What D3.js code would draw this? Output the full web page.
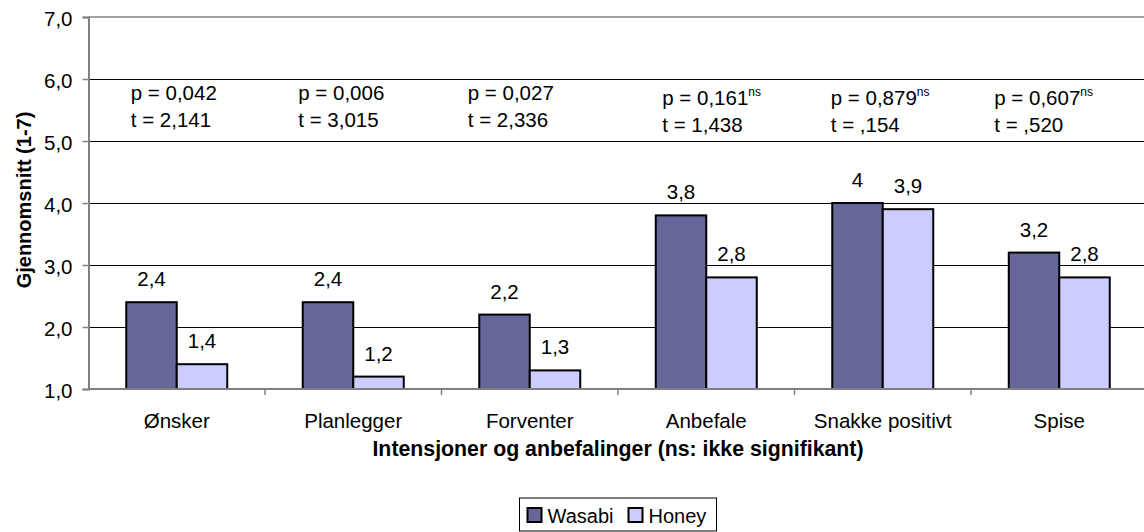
<!DOCTYPE html>
<meta charset="utf-8">
<script src="https://d3js.org/d3.v7.min.js"></script>
<style>
  body { margin: 0; background: #fff; }
  text { font-family: "Liberation Sans", Arial, sans-serif; fill: #000; }
</style>
<div id="chart"></div>
<script>

// data
var categories = ["Ønsker", "Planlegger", "Forventer", "Anbefale", "Snakke positivt", "Spise"];
var series = ["Wasabi", "Honey"];
var wasabi = [2.4, 2.4, 2.2, 3.8, 4.0, 3.2];
var honey = [1.4, 1.2, 1.3, 2.8, 3.9, 2.8];
var wasabiLabels = ["2,4", "2,4", "2,2", "3,8", "4", "3,2"];
var honeyLabels = ["1,4", "1,2", "1,3", "2,8", "3,9", "2,8"];
var pValues = ["0,042", "0,006", "0,027", "0,161", "0,879", "0,607"];
var tValues = ["2,141", "3,015", "2,336", "1,438", ",154", ",520"];
var notSignificant = [false, false, false, true, true, true];
var yTicks = [1, 2, 3, 4, 5, 6, 7];

// layout
var W = 1144, H = 532;
var plotLeft = 88.5, plotTop = 17, plotBottom = 389;
var catW = 176.5;
var annotOffset = [-46, -55, -62, -44, -52, -65];
var colors = {Wasabi: "#666699", Honey: "#CCCCFF"};

var svg = d3.select("#chart").append("svg")
    .attr("width", W).attr("height", H);

var x0 = d3.scaleBand()
    .domain(categories)
    .range([plotLeft, plotLeft + catW * categories.length])
    .padding(0);

var barW = 50.5;
var x1 = d3.scaleBand()
    .domain(series)
    .range([catW / 2 - barW, catW / 2 + barW]);

var y = d3.scaleLinear().domain([1, 7]).range([plotBottom, plotTop]);

// gridlines
svg.append("g")
    .selectAll("line")
    .data(yTicks.filter(function(d) { return d > 1 && d < 7; }))
    .enter().append("line")
    .attr("x1", plotLeft).attr("x2", W)
    .attr("y1", function(d) { return Math.round(y(d)) + 0.5; })
    .attr("y2", function(d) { return Math.round(y(d)) + 0.5; })
    .attr("stroke", "#000").attr("stroke-width", 1);

// top border
svg.append("line")
    .attr("x1", plotLeft).attr("x2", W)
    .attr("y1", y(7)).attr("y2", y(7))
    .attr("stroke", "#808080").attr("stroke-width", 1.5);

// y axis
var yAxis = svg.append("g")
    .attr("transform", "translate(" + plotLeft + ",0)")
    .call(d3.axisLeft(y).tickValues(yTicks).tickSize(6).tickPadding(10)
        .tickFormat(function(d) { return d3.format(".1f")(d).replace(".", ","); }));
yAxis.select(".domain").attr("stroke", "#808080").attr("stroke-width", 2);
yAxis.selectAll(".tick line").attr("stroke", "#808080").attr("stroke-width", 1.5);
yAxis.selectAll(".tick text")
    .style("font-size", "20.5px")
    .attr("font-family", null)
    .attr("dy", "0.42em");

// bars
var rows = categories.map(function(c, i) {
    return {cat: c, vals: [
        {s: "Wasabi", v: wasabi[i], label: wasabiLabels[i]},
        {s: "Honey", v: honey[i], label: honeyLabels[i]}
    ]};
});

var groups = svg.append("g")
    .selectAll("g")
    .data(rows)
    .enter().append("g")
    .attr("transform", function(d) { return "translate(" + x0(d.cat) + ",0)"; });

groups.selectAll("rect")
    .data(function(d) { return d.vals; })
    .enter().append("rect")
    .attr("x", function(d) { return x1(d.s); })
    .attr("y", function(d) { return y(d.v); })
    .attr("width", x1.bandwidth())
    .attr("height", function(d) { return y(1) - y(d.v); })
    .attr("fill", function(d) { return colors[d.s]; })
    .attr("stroke", "#000")
    .attr("stroke-width", 2);

groups.selectAll(".vlabel")
    .data(function(d) { return d.vals; })
    .enter().append("text")
    .attr("class", "vlabel")
    .attr("x", function(d) { return x1(d.s) + x1.bandwidth() / 2; })
    .attr("y", function(d) { return y(d.v) - 16; })
    .attr("text-anchor", "middle")
    .style("font-size", "20.5px")
    .text(function(d) { return d.label; });

// x axis
svg.append("line")
    .attr("x1", plotLeft).attr("x2", W)
    .attr("y1", plotBottom).attr("y2", plotBottom)
    .attr("stroke", "#808080").attr("stroke-width", 2);

svg.append("g")
    .selectAll("line")
    .data(categories)
    .enter().append("line")
    .attr("x1", function(d) { return x0(d) + catW; })
    .attr("x2", function(d) { return x0(d) + catW; })
    .attr("y1", plotBottom).attr("y2", plotBottom + 6)
    .attr("stroke", "#808080").attr("stroke-width", 1.5);

svg.append("g")
    .selectAll("text")
    .data(categories)
    .enter().append("text")
    .attr("x", function(d) { return x0(d) + catW / 2; })
    .attr("y", 428)
    .attr("text-anchor", "middle")
    .style("font-size", "20.5px")
    .text(function(d) { return d; });

// annotations
var ann = svg.append("g")
    .selectAll("g")
    .data(categories)
    .enter().append("g")
    .attr("transform", function(d, i) {
        return "translate(" + (x0(d) + catW / 2 + annotOffset[i]) + "," + (notSignificant[i] ? 104.5 : 100) + ")";
    });

var pText = ann.append("text")
    .style("font-size", "20.5px");
pText.append("tspan").text(function(d, i) { return "p = " + pValues[i]; });
pText.append("tspan")
    .attr("dy", -9)
    .style("font-size", "12px")
    .text(function(d, i) { return notSignificant[i] ? "ns" : ""; });

ann.append("text")
    .attr("y", 27)
    .style("font-size", "20.5px")
    .text(function(d, i) { return "t = " + tValues[i]; });

// axis titles
svg.append("text")
    .attr("transform", "translate(31,200) rotate(-90)")
    .attr("text-anchor", "middle")
    .style("font-size", "20px")
    .style("font-weight", "bold")
    .text("Gjennomsnitt (1-7)");

svg.append("text")
    .attr("x", 618).attr("y", 456)
    .attr("text-anchor", "middle")
    .style("font-size", "21.3px")
    .style("font-weight", "bold")
    .text("Intensjoner og anbefalinger (ns: ikke signifikant)");

// legend
var legend = svg.append("g").attr("transform", "translate(519.5,498)");
legend.append("rect")
    .attr("width", 197).attr("height", 33)
    .attr("fill", "#fff").attr("stroke", "#000").attr("stroke-width", 1);

var legX = [8, 109];
var li = legend.selectAll(".li")
    .data(series)
    .enter().append("g")
    .attr("transform", function(d, i) { return "translate(" + legX[i] + ",0)"; });
li.append("rect")
    .attr("x", 0).attr("y", 10)
    .attr("width", 14).attr("height", 14)
    .attr("fill", function(d) { return colors[d]; })
    .attr("stroke", "#000").attr("stroke-width", 2);
li.append("text")
    .attr("x", 20).attr("y", 25)
    .style("font-size", "20px")
    .text(function(d) { return d; });

</script>
